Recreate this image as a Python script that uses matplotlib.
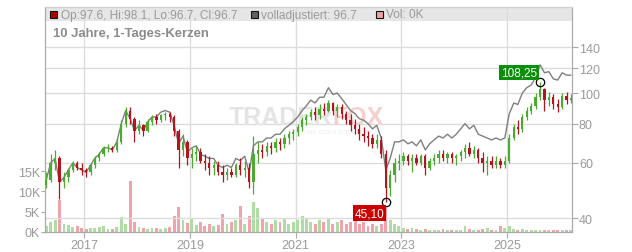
import matplotlib
matplotlib.use("Agg")
import matplotlib.pyplot as plt
import matplotlib.dates as mdates
from matplotlib.patches import Rectangle
from matplotlib.ticker import FixedLocator, NullLocator, NullFormatter
import pandas as pd
import numpy as np

plt.rcParams['font.family'] = ['Liberation Sans', 'DejaVu Sans']

# ---------------- data (monthly candles, Apr 2016 .. Mar 2026) ----------------
months = pd.date_range("2016-04-01", "2026-03-01", freq="MS")

opens = [51, 53, 60, 62, 52, 54, 57, 60, 58, 57, 56, 59, 62, 64, 67, 67, 66, 70, 80, 88,
         83, 76, 79, 76, 81, 84, 82, 85, 86, 84, 76, 66, 70, 62, 64, 65, 61, 60, 58, 59,
         56, 55, 56, 55, 59, 57, 58, 52, 64, 66, 65, 68, 67, 70, 69, 72, 74, 75, 78, 82,
         84, 87, 85, 89, 88, 93, 88, 90, 86, 82, 79, 77, 74, 73, 72, 69, 71, 64, 50, 55,
         60, 61, 63, 61, 62, 60, 63, 58, 61, 62, 64, 62, 64, 62, 63, 65, 67, 64, 66, 62,
         60, 61, 59, 61, 59, 61, 72, 78, 77, 84, 88, 91, 97, 103, 95, 97, 92, 90, 98, 95]
highs = [56, 64, 66, 63, 56, 58, 61, 61, 60, 58, 60, 63, 65, 68, 69, 68, 72, 82, 90, 90,
         84, 82, 80, 83, 85, 86, 86, 87, 87, 85, 77, 74, 71, 67, 68, 67, 64, 63, 61, 61,
         59, 58, 58, 60, 62, 61, 60, 73, 70, 69, 70, 70, 72, 72, 74, 76, 77, 80, 84, 86,
         89, 90, 92, 93, 95, 94, 92, 92, 88, 86, 83, 80, 78, 76, 74, 74, 73, 66, 57, 62,
         64, 65, 64, 64, 64, 64, 64, 62, 64, 66, 66, 65, 65, 64, 66, 69, 70, 68, 67, 65,
         63, 63, 63, 62, 63, 74, 80, 82, 86, 90, 93, 100, 108.25, 104, 101, 99, 96, 100, 101, 99]
lows = [50, 52, 57, 46, 50, 52, 56, 57, 55, 54, 55, 58, 61, 63, 65, 65, 65, 69, 78, 80,
        70, 74, 73, 75, 79, 80, 81, 82, 81, 73, 58, 63, 59, 58, 61, 60, 57, 55, 55, 55,
        52, 53, 54, 54, 55, 54, 50, 47.8, 60, 62, 63, 64, 65, 66, 67, 69, 71, 73, 76, 79,
        82, 82, 83, 85, 87, 85, 84, 83, 80, 76, 74, 71, 70, 68, 67, 67, 62, 45.1, 47, 52,
        57, 59, 59, 56, 59, 59, 55, 57, 59, 60, 61, 60, 60, 59, 61, 62, 63, 62, 60, 56,
        55, 58, 58, 58, 58, 60, 71, 74, 75, 82, 86, 89, 95, 88, 91, 89, 87, 89, 92, 93]
closes = [53, 60, 62, 52, 54, 57, 60, 58, 57, 56, 59, 62, 64, 67, 67, 66, 70, 80, 88, 83,
          76, 79, 76, 81, 84, 82, 85, 86, 84, 76, 66, 70, 62, 64, 65, 61, 60, 58, 59, 56,
          55, 56, 55, 59, 57, 58, 52, 64, 66, 65, 68, 67, 70, 69, 72, 74, 75, 78, 82, 84,
          87, 85, 89, 88, 93, 88, 90, 86, 82, 79, 77, 74, 73, 72, 69, 71, 64, 50, 55, 60,
          61, 63, 61, 62, 60, 63, 58, 61, 62, 64, 62, 64, 62, 63, 65, 67, 64, 66, 62, 60,
          61, 59, 61, 59, 61, 72, 78, 77, 84, 88, 91, 97, 103, 95, 97, 92, 90, 98, 95, 96.7]
adjusted = [53, 60, 62, 52, 54, 57, 60, 58, 57, 56, 59, 62, 64, 67, 67, 66, 70, 80, 88, 83,
            76, 79, 76, 81, 84, 84, 87, 88, 87, 79, 69, 73, 65, 67, 68, 64, 63, 62, 62, 59,
            58, 59, 58, 62, 61, 63, 56, 68, 70, 70, 72, 72, 74, 74, 77, 79, 81, 84, 88, 91,
            95, 93, 97, 97, 104, 99, 100, 96, 92, 88, 86, 83, 82, 80, 77, 79, 72, 57, 62, 70,
            70, 71, 69, 70, 68, 71, 66, 69, 71, 73, 72, 74, 72, 74, 77, 80, 77, 79, 74, 73,
            72, 71, 72, 71, 72, 86, 93, 92, 100, 104, 106, 112, 123, 116, 117, 111, 110, 116, 114, 114]
volume_k = [1.5, 2.5, 3.0, 8.0, 2.0, 1.8, 1.2, 1.5, 1.0, 0.8, 1.0, 0.9, 1.2, 1.5, 0.8, 0.7, 1.2, 3.8, 2.0, 12.5,
            2.5, 1.2, 1.0, 0.8, 1.0, 0.9, 0.8, 1.0, 1.2, 4.0, 6.2, 3.0, 2.2, 3.5, 1.8, 2.5, 1.5, 2.0, 1.5, 1.8,
            4.5, 2.0, 2.5, 3.0, 6.5, 2.0, 4.0, 7.5, 6.0, 3.5, 2.5, 2.0, 3.0, 2.5, 3.5, 2.0, 2.5, 3.0, 4.0, 3.5,
            2.5, 2.0, 3.0, 2.5, 3.5, 2.0, 2.5, 3.0, 2.0, 2.5, 3.0, 2.0, 2.5, 1.5, 2.0, 1.5, 2.0, 6.0, 3.0, 2.0,
            1.5, 1.0, 0.8, 1.0, 0.7, 0.6, 0.8, 0.5, 0.6, 0.5, 0.7, 0.5, 0.6, 0.6, 0.5, 1.5, 0.7, 0.6, 0.5, 0.8,
            1.0, 0.6, 0.5, 1.5, 1.0, 1.5, 0.8, 0.6, 0.7, 0.5, 0.6, 0.4, 0.5, 0.6, 0.4, 0.5, 0.4, 0.5, 0.6, 0.5]

price_ticks = [40, 60, 80, 100, 120, 140]
vol_ticks_k = [0, 5, 10, 15]
year_ticks = [2017, 2019, 2021, 2023, 2025]
high_label, high_idx = "108,25", 112
low_label, low_idx = "45,10", 77
legend_ohlc = "Op:97.6, Hi:98.1, Lo:96.7, Cl:96.7"
legend_adj = "volladjustiert: 96.7"
legend_vol = "Vol: 0K"
subtitle = "10 Jahre, 1-Tages-Kerzen"

# ---------------- styling ----------------
W, H = 632, 253
RED = "#b5141c"
GREEN = "#4caa30"
VRED = "#f0a3aa"
VGREEN = "#aedca4"
GREY_LINE = "#7f7f7f"
TXT = "#9a9a9a"
GRID = "#dcdcdc"

fig = plt.figure(figsize=(W / 100, H / 100), dpi=100)
L, R, T, B = 45, 572, 8, 233
ax = fig.add_axes([L / W, 1 - B / H, (R - L) / W, (B - T) / H])
axp = ax.twinx()

dates = months + pd.Timedelta(days=14)
x = mdates.date2num(dates)
xl0 = mdates.date2num(pd.Timestamp("2016-04-06"))
xl1 = mdates.date2num(pd.Timestamp("2026-03-24"))

# volume axis (left)
ax.set_xlim(xl0, xl1)
ax.set_ylim(0, 55.4)
ax.set_facecolor("white")
ax.add_patch(Rectangle((0, 211 / 225), 1, 14 / 225, transform=ax.transAxes,
                       facecolor="#e6e6e6", edgecolor="none", zorder=0))
for yr in year_ticks:
    ax.axvline(mdates.date2num(pd.Timestamp(f"{yr}-01-01")), color=GRID, lw=1, zorder=0.5)
up = [c >= o for o, c in zip(opens, closes)]
vcols = [VGREEN if u else VRED for u in up]
ax.bar(x, volume_k, width=20, color=vcols, zorder=1, linewidth=0)
ax.yaxis.set_major_locator(FixedLocator(vol_ticks_k))
ax.set_yticklabels([f"{v}K" for v in vol_ticks_k])
ax.xaxis.set_major_locator(FixedLocator([mdates.date2num(pd.Timestamp(f"{y}-01-01")) for y in year_ticks]))
ax.set_xticklabels([str(y) for y in year_ticks])
ax.tick_params(axis="y", colors="#aaaaaa", labelcolor=TXT, labelsize=9, length=3, pad=0.5, direction="out")
ax.tick_params(axis="x", colors="#aaaaaa", labelcolor=TXT, labelsize=9, length=4, pad=1)

# price axis (right, log)
axp.set_yscale("log")
axp.set_ylim(36.2, 187.7)
axp.set_xlim(xl0, xl1)
axp.patch.set_visible(False)
for p in price_ticks:
    axp.axhline(p, color=GRID, lw=1, zorder=0.5)
axp.yaxis.set_major_locator(FixedLocator(price_ticks))
axp.yaxis.set_minor_locator(NullLocator())
axp.yaxis.set_minor_formatter(NullFormatter())
axp.set_yticklabels([str(p) for p in price_ticks])
axp.tick_params(axis="y", colors="#aaaaaa", labelcolor=TXT, labelsize=9, length=4, pad=1)

for s in ("left", "right", "bottom"):
    ax.spines[s].set_color("#aaaaaa")
    axp.spines[s].set_color("#aaaaaa")
ax.spines["top"].set_color("#d0d0d0")
axp.spines["top"].set_color("#d0d0d0")

# watermark
axp.text(0.545, 0.51, "TRADER", transform=axp.transAxes, ha="right", va="center",
         fontsize=18, fontweight="bold", color="#e4e4e4", zorder=1)
axp.text(0.545, 0.51, "FOX", transform=axp.transAxes, ha="left", va="center",
         fontsize=18, fontweight="bold", color="#f7cfcf", zorder=1)
axp.text(0.54, 0.445, "REALTIME STOCK SCREENING", transform=axp.transAxes, ha="center", va="center",
         fontsize=4, color="#ececec", zorder=1)

# adjusted line
axp.plot(x, adjusted, color=GREY_LINE, lw=1, zorder=2)

# candles
ccols = [GREEN if u else RED for u in up]
axp.vlines(x, lows, highs, colors=ccols, lw=0.9, zorder=3)
body_lo = [min(o, c) for o, c in zip(opens, closes)]
body_h = [abs(c - o) if abs(c - o) > 0.3 else 0.3 for o, c in zip(opens, closes)]
axp.bar(x, body_h, bottom=body_lo, width=16, color=ccols, linewidth=0, zorder=3)

# high / low tags
axp.plot([x[high_idx]], [highs[high_idx]], marker="o", ms=6, mfc="none", mec="black", mew=0.9, zorder=5)
axp.annotate(high_label, (x[high_idx], highs[high_idx]), xytext=(-2, 7), textcoords="offset points",
             ha="right", va="center", color="white", fontsize=8.5, zorder=6,
             bbox=dict(boxstyle="square,pad=0.15", fc="#0a8f0a", ec="none"))
axp.plot([x[low_idx]], [lows[low_idx]], marker="o", ms=6, mfc="none", mec="black", mew=0.9, zorder=5)
axp.annotate(low_label, (x[low_idx], lows[low_idx]), xytext=(-1, -8), textcoords="offset points",
             ha="right", va="center", color="white", fontsize=8.5, zorder=6,
             bbox=dict(boxstyle="square,pad=0.15", fc="#cc0000", ec="none"))

# header legend
def fx(px): return px / W
def fy(py): return 1 - py / H

for x0, col in ((50, "#b00000"), (251, "#606060"), (376, "#f0a0a8")):
    fig.add_artist(Rectangle((fx(x0), fy(19)), 7 / W, 7 / H, transform=fig.transFigure,
                             facecolor=col, edgecolor="#111111", lw=0.8))
fig.text(fx(61), fy(15.5), legend_ohlc, ha="left", va="center", fontsize=8.6, color=TXT)
fig.text(fx(261), fy(15.5), legend_adj, ha="left", va="center", fontsize=8.6, color=TXT)
fig.text(fx(386), fy(15.5), legend_vol, ha="left", va="center", fontsize=8.6, color=TXT)
fig.text(fx(53), fy(34), subtitle, ha="left", va="center", fontsize=9.4, fontweight="bold", color="#8a8a8a")

fig.savefig("out.png", dpi=100)
